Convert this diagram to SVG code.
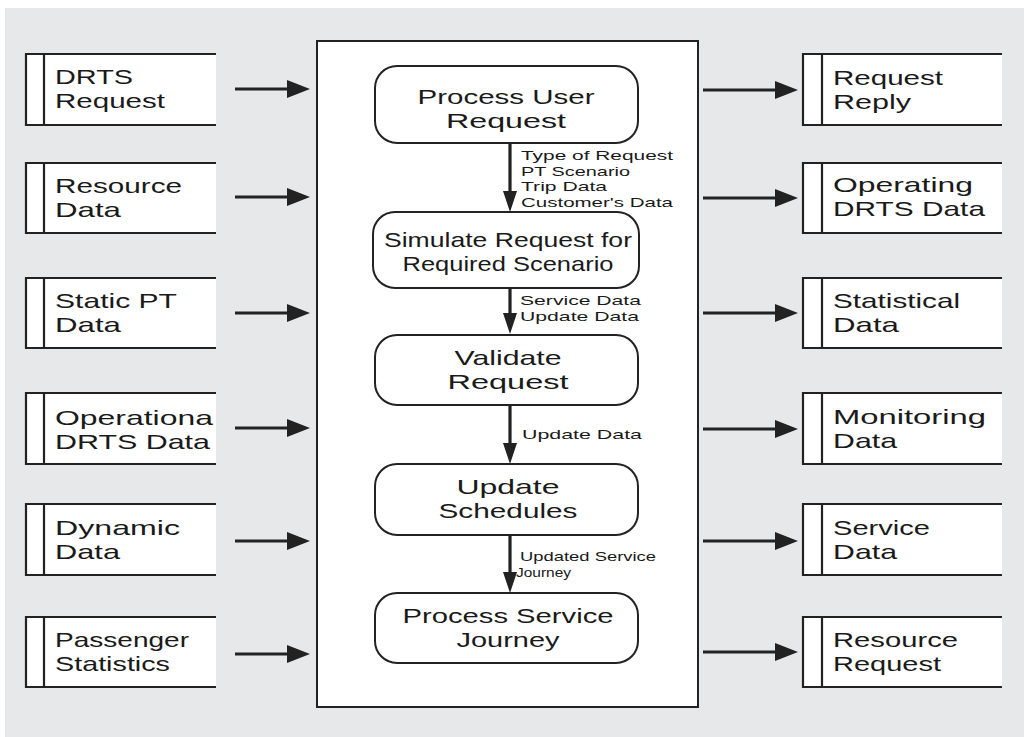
<svg xmlns="http://www.w3.org/2000/svg" width="1024" height="737" viewBox="0 0 1024 737">
  <style>
    .store-edge { fill: none; stroke: #222222; stroke-width: 2.2; }
    .proc { fill: #ffffff; stroke: #222222; stroke-width: 2; }
    .flow { stroke: #222222; stroke-width: 3.2; fill: none; }
    .lbl { font-family: "Liberation Sans", Arial, sans-serif; font-size: 21px; fill: #1a1a1a; }
    .plbl { font-family: "Liberation Sans", Arial, sans-serif; font-size: 21px; fill: #1a1a1a; text-anchor: middle; }
    .small { font-family: "Liberation Sans", Arial, sans-serif; font-size: 13.5px; fill: #1a1a1a; }
  </style>
  <defs>
    <marker id="headH" markerUnits="userSpaceOnUse" markerWidth="24" markerHeight="20" viewBox="0 0 24 20" refX="11" refY="9" orient="auto">
      <path d="M0,0 L23,9 L0,18 z" fill="#222222"/>
    </marker>
    <marker id="headV" markerUnits="userSpaceOnUse" markerWidth="22" markerHeight="16" viewBox="0 0 22 16" refX="10" refY="7" orient="auto">
      <path d="M0,0 L21,7 L0,14 z" fill="#222222"/>
    </marker>
  </defs>

  <!-- page background -->
  <rect x="5" y="8" width="1019" height="729" fill="#e7e8ea"/>

  <!-- central process boundary -->
  <g id="system">
    <rect x="317" y="41" width="381" height="666" fill="#ffffff" stroke="#222222" stroke-width="2"/>
  </g>

  <!-- input data stores -->
  <g id="in-drts-request">
    <rect x="26" y="54" width="190" height="71" fill="#ffffff"/>
    <path class="store-edge" d="M216,54 H26 V125 H216 M44,54 V125"/>
    <text class="lbl" x="55" y="84" textLength="78" lengthAdjust="spacingAndGlyphs">DRTS</text>
    <text class="lbl" x="55" y="108" textLength="110" lengthAdjust="spacingAndGlyphs">Request</text>
  </g>
  <g id="in-resource-data">
    <rect x="26" y="163" width="190" height="70" fill="#ffffff"/>
    <path class="store-edge" d="M216,163 H26 V233 H216 M44,163 V233"/>
    <text class="lbl" x="55" y="193" textLength="127" lengthAdjust="spacingAndGlyphs">Resource</text>
    <text class="lbl" x="55" y="217" textLength="66" lengthAdjust="spacingAndGlyphs">Data</text>
  </g>
  <g id="in-static-pt">
    <rect x="26" y="278" width="190" height="70" fill="#ffffff"/>
    <path class="store-edge" d="M216,278 H26 V348 H216 M44,278 V348"/>
    <text class="lbl" x="55" y="308" textLength="122" lengthAdjust="spacingAndGlyphs">Static PT</text>
    <text class="lbl" x="55" y="332" textLength="66" lengthAdjust="spacingAndGlyphs">Data</text>
  </g>
  <g id="in-operational-drts">
    <rect x="26" y="393" width="190" height="71" fill="#ffffff"/>
    <path class="store-edge" d="M216,393 H26 V464 H216 M44,393 V464"/>
    <text class="lbl" x="55" y="425" textLength="158" lengthAdjust="spacingAndGlyphs">Operationa</text>
    <text class="lbl" x="55" y="449" textLength="155" lengthAdjust="spacingAndGlyphs">DRTS Data</text>
  </g>
  <g id="in-dynamic-data">
    <rect x="26" y="504" width="190" height="71" fill="#ffffff"/>
    <path class="store-edge" d="M216,504 H26 V575 H216 M44,504 V575"/>
    <text class="lbl" x="55" y="535" textLength="125" lengthAdjust="spacingAndGlyphs">Dynamic</text>
    <text class="lbl" x="55" y="559" textLength="65" lengthAdjust="spacingAndGlyphs">Data</text>
  </g>
  <g id="in-passenger-stats">
    <rect x="26" y="617" width="190" height="70" fill="#ffffff"/>
    <path class="store-edge" d="M216,617 H26 V687 H216 M44,617 V687"/>
    <text class="lbl" x="55" y="647" textLength="134" lengthAdjust="spacingAndGlyphs">Passenger</text>
    <text class="lbl" x="55" y="671" textLength="115" lengthAdjust="spacingAndGlyphs">Statistics</text>
  </g>

  <!-- output data stores -->
  <g id="out-request-reply">
    <rect x="803" y="54" width="199" height="71" fill="#ffffff"/>
    <path class="store-edge" d="M1002,54 H803 V125 H1002 M822,54 V125"/>
    <text class="lbl" x="833" y="85" textLength="110" lengthAdjust="spacingAndGlyphs">Request</text>
    <text class="lbl" x="833" y="109" textLength="78" lengthAdjust="spacingAndGlyphs">Reply</text>
  </g>
  <g id="out-operating-drts">
    <rect x="803" y="163" width="199" height="70" fill="#ffffff"/>
    <path class="store-edge" d="M1002,163 H803 V233 H1002 M822,163 V233"/>
    <text class="lbl" x="833" y="192" textLength="140" lengthAdjust="spacingAndGlyphs">Operating</text>
    <text class="lbl" x="833" y="216" textLength="152" lengthAdjust="spacingAndGlyphs">DRTS Data</text>
  </g>
  <g id="out-statistical-data">
    <rect x="803" y="278" width="199" height="70" fill="#ffffff"/>
    <path class="store-edge" d="M1002,278 H803 V348 H1002 M822,278 V348"/>
    <text class="lbl" x="833" y="308" textLength="127" lengthAdjust="spacingAndGlyphs">Statistical</text>
    <text class="lbl" x="833" y="332" textLength="66" lengthAdjust="spacingAndGlyphs">Data</text>
  </g>
  <g id="out-monitoring-data">
    <rect x="803" y="393" width="199" height="71" fill="#ffffff"/>
    <path class="store-edge" d="M1002,393 H803 V464 H1002 M822,393 V464"/>
    <text class="lbl" x="833" y="424" textLength="153" lengthAdjust="spacingAndGlyphs">Monitoring</text>
    <text class="lbl" x="833" y="448" textLength="64" lengthAdjust="spacingAndGlyphs">Data</text>
  </g>
  <g id="out-service-data">
    <rect x="803" y="504" width="199" height="71" fill="#ffffff"/>
    <path class="store-edge" d="M1002,504 H803 V575 H1002 M822,504 V575"/>
    <text class="lbl" x="833" y="535" textLength="97" lengthAdjust="spacingAndGlyphs">Service</text>
    <text class="lbl" x="833" y="559" textLength="64" lengthAdjust="spacingAndGlyphs">Data</text>
  </g>
  <g id="out-resource-request">
    <rect x="803" y="617" width="199" height="70" fill="#ffffff"/>
    <path class="store-edge" d="M1002,617 H803 V687 H1002 M822,617 V687"/>
    <text class="lbl" x="833" y="647" textLength="125" lengthAdjust="spacingAndGlyphs">Resource</text>
    <text class="lbl" x="833" y="671" textLength="108" lengthAdjust="spacingAndGlyphs">Request</text>
  </g>

  <!-- internal processes -->
  <g id="p-process-user-request">
    <rect class="proc" x="375" y="66" width="263" height="77" rx="22"/>
    <text class="plbl" x="506" y="104" textLength="177" lengthAdjust="spacingAndGlyphs">Process User</text>
    <text class="plbl" x="506" y="128" textLength="120" lengthAdjust="spacingAndGlyphs">Request</text>
  </g>
  <g id="p-simulate-request">
    <rect class="proc" x="373" y="212" width="266" height="76" rx="22"/>
    <text class="plbl" x="508" y="247" textLength="248" lengthAdjust="spacingAndGlyphs">Simulate Request for</text>
    <text class="plbl" x="508" y="271" textLength="211" lengthAdjust="spacingAndGlyphs">Required Scenario</text>
  </g>
  <g id="p-validate-request">
    <rect class="proc" x="375" y="335" width="263" height="70" rx="22"/>
    <text class="plbl" x="508" y="365" textLength="107" lengthAdjust="spacingAndGlyphs">Validate</text>
    <text class="plbl" x="508" y="389" textLength="121" lengthAdjust="spacingAndGlyphs">Request</text>
  </g>
  <g id="p-update-schedules">
    <rect class="proc" x="375" y="464" width="263" height="71" rx="22"/>
    <text class="plbl" x="508" y="494" textLength="103" lengthAdjust="spacingAndGlyphs">Update</text>
    <text class="plbl" x="508" y="518" textLength="139" lengthAdjust="spacingAndGlyphs">Schedules</text>
  </g>
  <g id="p-process-service-journey">
    <rect class="proc" x="375" y="593" width="263" height="70" rx="22"/>
    <text class="plbl" x="508" y="623" textLength="211" lengthAdjust="spacingAndGlyphs">Process Service</text>
    <text class="plbl" x="508" y="647" textLength="103" lengthAdjust="spacingAndGlyphs">Journey</text>
  </g>

  <!-- data flows -->
  <g id="flows">
    <line class="flow" x1="235" y1="89" x2="298" y2="89" marker-end="url(#headH)"/>
    <line class="flow" x1="235" y1="197" x2="298" y2="197" marker-end="url(#headH)"/>
    <line class="flow" x1="235" y1="313" x2="298" y2="313" marker-end="url(#headH)"/>
    <line class="flow" x1="235" y1="428" x2="298" y2="428" marker-end="url(#headH)"/>
    <line class="flow" x1="235" y1="541" x2="298" y2="541" marker-end="url(#headH)"/>
    <line class="flow" x1="235" y1="654" x2="298" y2="654" marker-end="url(#headH)"/>

    <line class="flow" x1="703" y1="90" x2="786" y2="90" marker-end="url(#headH)"/>
    <line class="flow" x1="703" y1="198" x2="786" y2="198" marker-end="url(#headH)"/>
    <line class="flow" x1="703" y1="313" x2="786" y2="313" marker-end="url(#headH)"/>
    <line class="flow" x1="703" y1="429" x2="786" y2="429" marker-end="url(#headH)"/>
    <line class="flow" x1="703" y1="541" x2="786" y2="541" marker-end="url(#headH)"/>
    <line class="flow" x1="703" y1="652" x2="786" y2="652" marker-end="url(#headH)"/>

    <line class="flow" x1="510" y1="143" x2="510" y2="201" marker-end="url(#headV)"/>
    <line class="flow" x1="510" y1="288" x2="510" y2="323" marker-end="url(#headV)"/>
    <line class="flow" x1="510" y1="405" x2="510" y2="453" marker-end="url(#headV)"/>
    <line class="flow" x1="510" y1="535" x2="510" y2="582" marker-end="url(#headV)"/>

    <text class="small" x="521" y="160" textLength="152" lengthAdjust="spacingAndGlyphs">Type of Request</text>
    <text class="small" x="521" y="175.5" textLength="109" lengthAdjust="spacingAndGlyphs">PT Scenario</text>
    <text class="small" x="521" y="191" textLength="86" lengthAdjust="spacingAndGlyphs">Trip Data</text>
    <text class="small" x="521" y="206.5" textLength="152" lengthAdjust="spacingAndGlyphs">Customer's Data</text>

    <text class="small" x="520" y="305" textLength="121" lengthAdjust="spacingAndGlyphs">Service Data</text>
    <text class="small" x="520" y="320.5" textLength="119" lengthAdjust="spacingAndGlyphs">Update Data</text>

    <text class="small" x="522" y="439" textLength="120" lengthAdjust="spacingAndGlyphs">Update Data</text>

    <text class="small" x="520" y="561" textLength="136" lengthAdjust="spacingAndGlyphs">Updated Service</text>
    <text class="small" x="516" y="576.5" textLength="55" lengthAdjust="spacingAndGlyphs">Journey</text>
  </g>
</svg>
